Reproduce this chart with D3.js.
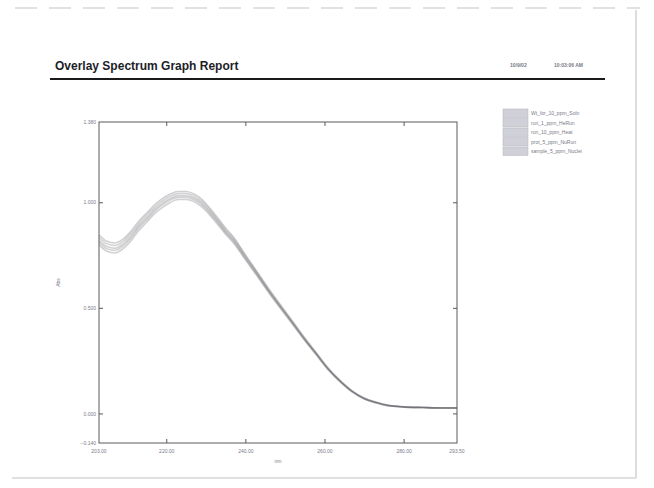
<!DOCTYPE html>
<html lang="en">
    <head>
        <meta charset="utf-8">
        <title>Overlay Spectrum Graph Report</title>
        <script type="text/javascript" src="https://d3js.org/d3.v7.min.js"></script>
        <style type="text/css">
            body {
                margin: 0;
                background-color: #ffffff;
            }
            svg {
                display: block;
                font-family: "Liberation Sans", Arial, sans-serif;
            }
            .small {
                font-size: 5px;
                fill: #7a7a88;
            }
        </style>
    </head>
    <body>
        <svg width="654" height="488"></svg>
        <script type="text/javascript">

            // wavelength (nm)
            const wavelengths = [203, 205, 207, 209, 211, 213, 215, 217, 219, 221, 223, 225, 227, 229, 231, 233, 235, 237,
                240, 243, 246, 249, 252, 255, 258, 261, 264, 267, 270, 273, 276, 280, 285, 290, 293.5];

            // absorbance of each overlaid run
            const run1 = [0.845, 0.815, 0.807, 0.824, 0.861, 0.909, 0.948, 0.987, 1.017, 1.039, 1.051, 1.051, 1.039, 1.014, 0.973, 0.927, 0.878, 0.835,
                0.752, 0.670, 0.588, 0.511, 0.435, 0.358, 0.286, 0.214, 0.156, 0.107, 0.074, 0.054, 0.040, 0.032, 0.029, 0.027, 0.027];
            const run2 = [0.833, 0.803, 0.795, 0.812, 0.849, 0.897, 0.937, 0.976, 1.006, 1.028, 1.041, 1.041, 1.029, 1.004, 0.964, 0.918, 0.870, 0.828,
                0.746, 0.665, 0.583, 0.506, 0.431, 0.355, 0.283, 0.212, 0.154, 0.106, 0.072, 0.053, 0.039, 0.031, 0.028, 0.026, 0.026];
            const run3 = [0.820, 0.790, 0.782, 0.800, 0.837, 0.886, 0.925, 0.965, 0.995, 1.018, 1.031, 1.031, 1.020, 0.995, 0.955, 0.910, 0.862, 0.820,
                0.739, 0.659, 0.578, 0.502, 0.427, 0.351, 0.280, 0.209, 0.152, 0.104, 0.071, 0.052, 0.038, 0.031, 0.028, 0.026, 0.026];
            const run4 = [0.810, 0.780, 0.772, 0.790, 0.827, 0.877, 0.916, 0.956, 0.986, 1.010, 1.023, 1.023, 1.012, 0.987, 0.948, 0.903, 0.856, 0.814,
                0.734, 0.655, 0.574, 0.498, 0.424, 0.348, 0.278, 0.207, 0.150, 0.103, 0.070, 0.051, 0.037, 0.031, 0.028, 0.026, 0.026];
            const run5 = [0.798, 0.768, 0.760, 0.778, 0.815, 0.865, 0.904, 0.945, 0.975, 0.999, 1.013, 1.013, 1.003, 0.978, 0.939, 0.895, 0.848, 0.807,
                0.727, 0.649, 0.569, 0.494, 0.420, 0.345, 0.275, 0.205, 0.148, 0.101, 0.068, 0.050, 0.036, 0.030, 0.027, 0.025, 0.025];

            const runNames = ["Wt_for_10_ppm_Soln", "run_1_ppm_HeRun", "run_10_ppm_Heat", "prot_5_ppm_NuRun", "sample_5_ppm_Nuclei"];
            const runColors = ["#3c3c44", "#484850", "#404046", "#505058", "#44444a"];

            const xDomain = [203.0, 293.5];
            const yDomain = [-0.140, 1.380];
            const xTicks = [220, 240, 260, 280];
            const yTicks = [0, 0.5, 1.0];

            const svg = d3.select("svg");

            // scanned page edges
            svg.append("line").attr("x1", 15).attr("x2", 640).attr("y1", 8).attr("y2", 8)
                .attr("stroke", "#c4c4c4").attr("stroke-width", 1.2).attr("stroke-dasharray", "22 12");
            svg.append("line").attr("x1", 636).attr("x2", 636).attr("y1", 10).attr("y2", 478)
                .attr("stroke", "#d2d2d2").attr("stroke-width", 1.5);
            svg.append("line").attr("x1", 12).attr("x2", 636).attr("y1", 478).attr("y2", 478)
                .attr("stroke", "#d6d6d6").attr("stroke-width", 1.5);

            // header
            svg.append("text").attr("x", 55).attr("y", 70)
                .attr("font-size", "12px").attr("font-weight", "bold").attr("fill", "#1e1e28")
                .text("Overlay Spectrum Graph Report");
            svg.append("text").attr("class", "small").attr("x", 510).attr("y", 67).attr("font-weight", "bold").text("10/9/02");
            svg.append("text").attr("class", "small").attr("x", 554).attr("y", 67).attr("font-weight", "bold").text("10:03:06 AM");
            svg.append("line").attr("x1", 50).attr("x2", 605).attr("y1", 79).attr("y2", 79)
                .attr("stroke", "#1a1a1a").attr("stroke-width", 2);

            // plot area
            const plotL = 99, plotR = 457, plotT = 122, plotB = 443;

            const x = d3.scaleLinear().domain(xDomain).range([plotL, plotR]);
            const y = d3.scaleLinear().domain(yDomain).range([plotB, plotT]);

            const runs = [run1, run2, run3, run4, run5].map(function (vals, i) {
                return { name: runNames[i], color: runColors[i], points: vals.map(function (v, j) { return [wavelengths[j], v]; }) };
            });

            const line = d3.line()
                .x(d => x(d[0]))
                .y(d => y(d[1]))
                .curve(d3.curveMonotoneX);

            svg.append("g").selectAll("path")
                .data(runs)
                .enter()
                .append("path")
                .attr("d", d => line(d.points))
                .attr("fill", "none")
                .attr("stroke", d => d.color)
                .attr("stroke-opacity", 0.24)
                .attr("stroke-width", 1.6);

            // frame
            svg.append("rect").attr("x", plotL).attr("y", plotT).attr("width", plotR - plotL).attr("height", plotB - plotT)
                .attr("fill", "none").attr("stroke", "#5a5a5a").attr("stroke-width", 1);

            // inner ticks on all four sides
            const xAxisB = d3.axisBottom(x).tickValues(xTicks).tickSizeInner(-4).tickSizeOuter(0).tickFormat(d3.format(".2f"));
            const xAxisT = d3.axisTop(x).tickValues(xTicks).tickSizeInner(-4).tickSizeOuter(0).tickFormat("");
            const yAxisL = d3.axisLeft(y).tickValues(yTicks).tickSizeInner(-4).tickSizeOuter(0).tickFormat(d3.format(".3f"));
            const yAxisR = d3.axisRight(y).tickValues(yTicks).tickSizeInner(-4).tickSizeOuter(0).tickFormat("");

            function styleAxis(g) {
                g.select(".domain").remove();
                g.selectAll(".tick line").attr("stroke", "#5a5a5a");
                g.selectAll(".tick text").attr("class", "small");
                g.attr("font-size", null).attr("font-family", null);
            }

            svg.append("g").attr("transform", "translate(0," + plotB + ")").call(xAxisB).call(styleAxis)
                .selectAll(".tick text").attr("y", 6).attr("dy", "0.71em");
            svg.append("g").attr("transform", "translate(0," + plotT + ")").call(xAxisT).call(styleAxis);
            svg.append("g").attr("transform", "translate(" + plotL + ",0)").call(yAxisL).call(styleAxis)
                .selectAll(".tick text").attr("x", -3);
            svg.append("g").attr("transform", "translate(" + plotR + ",0)").call(yAxisR).call(styleAxis);

            // range end labels
            svg.append("text").attr("class", "small").attr("x", x(xDomain[0])).attr("y", plotB + 10)
                .attr("text-anchor", "middle").text(d3.format(".2f")(xDomain[0]));
            svg.append("text").attr("class", "small").attr("x", x(xDomain[1])).attr("y", plotB + 10)
                .attr("text-anchor", "middle").text(d3.format(".2f")(xDomain[1]));
            svg.append("text").attr("class", "small").attr("x", plotL - 3).attr("y", y(yDomain[1]) + 2)
                .attr("text-anchor", "end").text(d3.format(".3f")(yDomain[1]));
            svg.append("text").attr("class", "small").attr("x", plotL - 3).attr("y", y(yDomain[0]) + 2)
                .attr("text-anchor", "end").text(d3.format(".3f")(yDomain[0]));

            // axis titles
            svg.append("text").attr("class", "small").attr("x", (plotL + plotR) / 2).attr("y", plotB + 20)
                .attr("text-anchor", "middle").text("nm");
            svg.append("text").attr("class", "small")
                .attr("transform", "translate(60," + ((plotT + plotB) / 2) + ") rotate(-90)")
                .attr("text-anchor", "middle").text("Abs");

            // legend
            const legend = svg.append("g").selectAll("g")
                .data(runs)
                .enter()
                .append("g")
                .attr("transform", (d, i) => "translate(503," + (109 + i * 9.5) + ")");
            legend.append("rect").attr("width", 25).attr("height", 8.5)
                .attr("fill", "#d0d0d8").attr("stroke", "#b4b4bc").attr("stroke-width", 0.5);
            legend.append("text").attr("class", "small").attr("x", 28).attr("y", 6).text(d => d.name);

        </script>
    </body>
</html>
